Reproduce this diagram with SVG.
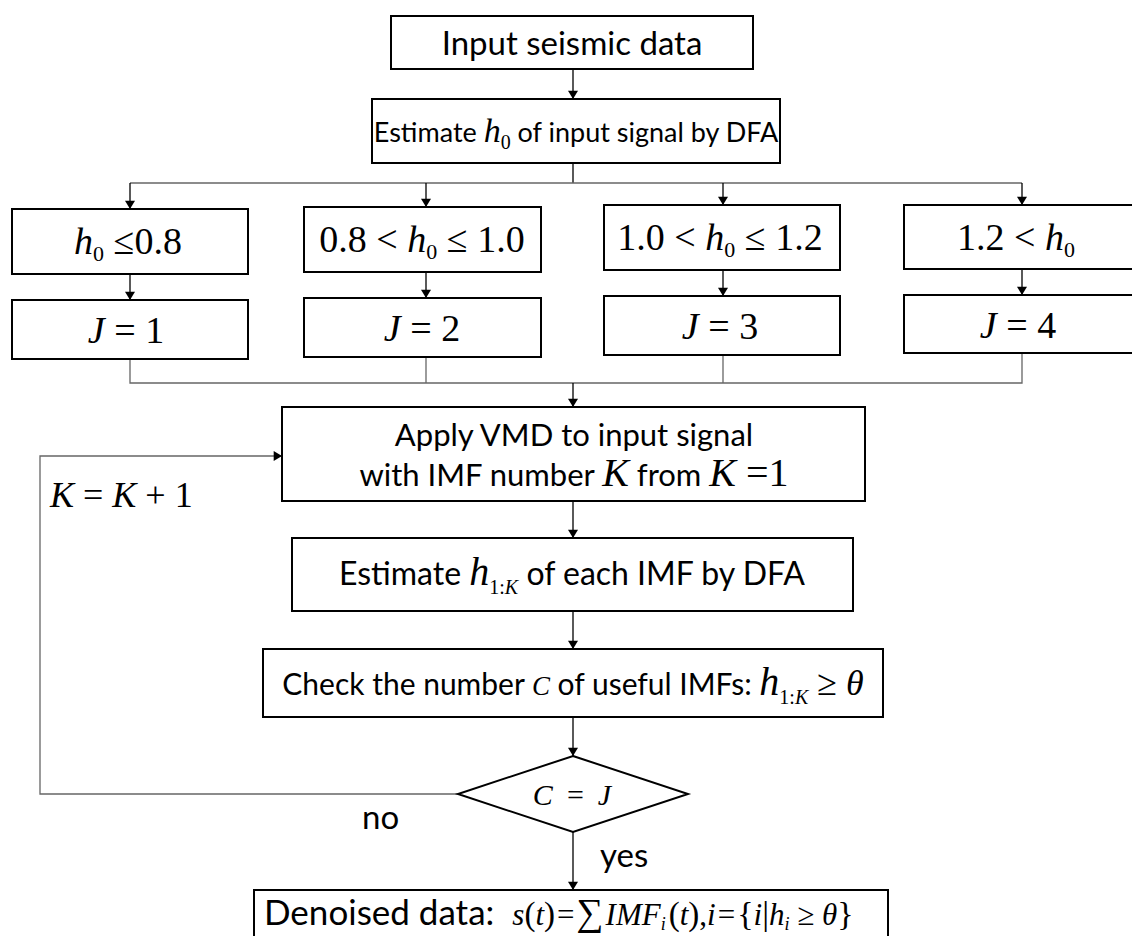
<svg xmlns="http://www.w3.org/2000/svg" width="1132" height="936" viewBox="0 0 1132 936">
<defs>
<style>
.box{fill:#fff;stroke:#000;stroke-width:2}
.c{fill:none;stroke:#000;stroke-width:1.3}
.g{stroke:#666}
.t{font-family:Lato,"Liberation Sans",sans-serif;fill:#000}
.m{font-family:"Liberation Serif",serif;font-style:italic;fill:#000}
.u{font-family:"Liberation Serif",serif;font-style:normal;fill:#000}
</style>
<marker id="a" viewBox="0 0 10 12" refX="10" refY="6" markerWidth="12" markerHeight="10" markerUnits="userSpaceOnUse" orient="auto"><path d="M0,0 L10,6 L0,12z" fill="#000"/></marker>
</defs>
<rect width="1132" height="936" fill="#fff"/>

<g id="connectors">
<path class="c" d="M573,69 V99" marker-end="url(#a)"/>
<path class="c" d="M573,163 V183"/>
<path class="c g" d="M130,183 H1022"/>
<path class="c" d="M130,183 V209" marker-end="url(#a)"/>
<path class="c" d="M426,183 V207" marker-end="url(#a)"/>
<path class="c" d="M723,183 V205" marker-end="url(#a)"/>
<path class="c" d="M1022,183 V205" marker-end="url(#a)"/>
<path class="c" d="M130,274 V300" marker-end="url(#a)"/>
<path class="c" d="M426,272 V298" marker-end="url(#a)"/>
<path class="c" d="M723,270 V296" marker-end="url(#a)"/>
<path class="c" d="M1022,269 V295" marker-end="url(#a)"/>
<path class="c g" d="M130,359 V383 H1022 V353"/>
<path class="c g" d="M426,357 V383"/>
<path class="c g" d="M723,355 V383"/>
<path class="c" d="M573,383 V407" marker-end="url(#a)"/>
<path class="c" d="M573,501 V538" marker-end="url(#a)"/>
<path class="c" d="M573,611 V649" marker-end="url(#a)"/>
<path class="c" d="M573,717 V756" marker-end="url(#a)"/>
<path class="c" d="M573,832 V890" marker-end="url(#a)"/>
<path class="c g" d="M458,794 H40 V456 H282" marker-end="url(#a)"/>
</g>

<g id="input">
<rect class="box" x="391" y="16" width="362" height="53"/>
<text class="t" font-size="33" x="572" y="55" text-anchor="middle">Input seismic data</text>
</g>

<g id="estimate-h0">
<rect class="box" x="372" y="99" width="408" height="64"/>
<text class="t" font-size="27" x="576" y="142" text-anchor="middle">Estimate <tspan class="m" font-size="34">h</tspan><tspan class="u" font-size="20" dy="7">0</tspan><tspan dy="-7"> of input signal by DFA</tspan></text>
</g>

<g id="cond1">
<rect class="box" x="12" y="209" width="236" height="65"/>
<text class="u" font-size="38" x="128" y="254" text-anchor="middle"><tspan class="m">h</tspan><tspan font-size="22" dy="7">0</tspan><tspan dy="-7"> ≤0.8</tspan></text>
</g>
<g id="cond2">
<rect class="box" x="304" y="207" width="237" height="65"/>
<text class="u" font-size="38" x="422" y="252" text-anchor="middle">0.8 &lt; <tspan class="m">h</tspan><tspan font-size="22" dy="7">0</tspan><tspan dy="-7"> ≤ 1.0</tspan></text>
</g>
<g id="cond3">
<rect class="box" x="604" y="205" width="236" height="65"/>
<text class="u" font-size="38" x="720" y="250" text-anchor="middle">1.0 &lt; <tspan class="m">h</tspan><tspan font-size="22" dy="7">0</tspan><tspan dy="-7"> ≤ 1.2</tspan></text>
</g>
<g id="cond4">
<rect class="box" x="904" y="205" width="240" height="64"/>
<text class="u" font-size="38" x="1016" y="250" text-anchor="middle">1.2 &lt; <tspan class="m">h</tspan><tspan font-size="22" dy="7">0</tspan></text>
</g>

<g id="j1">
<rect class="box" x="12" y="300" width="236" height="59"/>
<text class="u" font-size="38" x="126" y="343" text-anchor="middle"><tspan class="m">J</tspan> = 1</text>
</g>
<g id="j2">
<rect class="box" x="304" y="298" width="237" height="59"/>
<text class="u" font-size="38" x="422" y="341" text-anchor="middle"><tspan class="m">J</tspan> = 2</text>
</g>
<g id="j3">
<rect class="box" x="604" y="296" width="236" height="59"/>
<text class="u" font-size="38" x="720" y="339" text-anchor="middle"><tspan class="m">J</tspan> = 3</text>
</g>
<g id="j4">
<rect class="box" x="904" y="295" width="240" height="58"/>
<text class="u" font-size="38" x="1018" y="338" text-anchor="middle"><tspan class="m">J</tspan> = 4</text>
</g>

<g id="vmd">
<rect class="box" x="282" y="407" width="583" height="94"/>
<text class="t" font-size="31" x="574" y="446" text-anchor="middle">Apply VMD to input signal</text>
<text class="t" font-size="31" x="574" y="486" text-anchor="middle">with IMF number <tspan class="m" font-size="40">K</tspan><tspan> from </tspan><tspan class="m" font-size="40">K</tspan><tspan class="u" font-size="40"> =1</tspan></text>
</g>

<g id="loop-label">
<text class="u" font-size="36" x="50" y="507"><tspan class="m">K</tspan> = <tspan class="m">K</tspan> + 1</text>
</g>

<g id="estimate-h1k">
<rect class="box" x="292" y="538" width="561" height="73"/>
<text class="t" font-size="32" x="572" y="585" text-anchor="middle">Estimate <tspan class="m" font-size="40">h</tspan><tspan class="u" font-size="20" dy="9">1:</tspan><tspan class="m" font-size="20">K</tspan><tspan dy="-9"> of each IMF by DFA</tspan></text>
</g>

<g id="check">
<rect class="box" x="263" y="649" width="620" height="68"/>
<text class="t" font-size="30" x="573" y="695" text-anchor="middle">Check the number <tspan class="m" font-size="27">C</tspan><tspan> of useful IMFs: </tspan><tspan class="m" font-size="40">h</tspan><tspan class="u" font-size="20" dy="9">1:</tspan><tspan class="m" font-size="20">K</tspan><tspan class="u" font-size="36" dy="-9"> ≥ </tspan><tspan class="m" font-size="36">θ</tspan></text>
</g>

<g id="decision">
<polygon class="box" points="573,756 688,794 573,832 458,794"/>
<text class="m" font-size="30" x="572" y="805" text-anchor="middle">C<tspan class="u" dx="14">=</tspan><tspan dx="14">J</tspan></text>
</g>

<g id="labels">
<text class="t" font-size="33" x="362" y="829">no</text>
<text class="t" font-size="33" x="600" y="867">yes</text>
</g>

<g id="output">
<rect class="box" x="254" y="890" width="634" height="60"/>
<text class="t" font-size="35" x="264" y="925">Denoised data:<tspan class="m" font-size="31" dx="18">s</tspan><tspan class="u" font-size="33">(</tspan><tspan class="m" font-size="31">t</tspan><tspan class="u" font-size="33">)</tspan><tspan class="u" font-size="31" dx="2">=</tspan><tspan class="u" font-size="38" dx="2">∑</tspan><tspan class="m" font-size="31" dx="2">IMF</tspan><tspan class="m" font-size="18" dy="5">i</tspan><tspan class="u" font-size="33" dy="-5" dx="3">(</tspan><tspan class="m" font-size="31">t</tspan><tspan class="u" font-size="33">)</tspan><tspan class="u" font-size="31">,</tspan><tspan class="m" font-size="31">i</tspan><tspan class="u" font-size="31" dx="2">=</tspan><tspan class="u" font-size="34" dx="2">{</tspan><tspan class="m" font-size="31">i</tspan><tspan class="u" font-size="34">|</tspan><tspan class="m" font-size="31">h</tspan><tspan class="m" font-size="18" dy="5">i</tspan><tspan class="u" font-size="31" dy="-5"> ≥ </tspan><tspan class="m" font-size="31">θ</tspan><tspan class="u" font-size="34">}</tspan></text>
</g>
</svg>
